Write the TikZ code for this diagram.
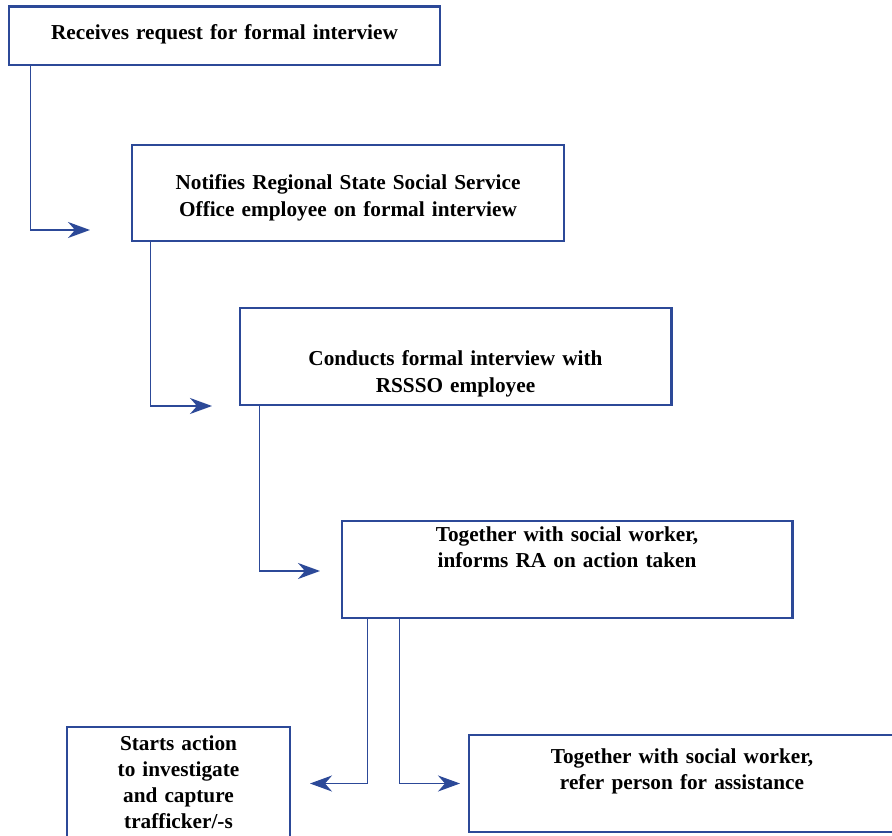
\documentclass[tikz,border=0pt]{standalone}
\usepackage{fontspec}
\setmainfont[WordSpace=0.85]{Liberation Serif}
\usetikzlibrary{arrows.meta}
\definecolor{frameblue}{RGB}{44,73,152}
\tikzstyle{box} = [rectangle, draw=frameblue, line width=1.7pt, inner sep=0pt, align=center, font=\fontsize{12.1}{14.8}\selectfont\bfseries]
\tikzstyle{arrow} = [draw=frameblue, line width=0.9pt, -{Stealth[length=0.44cm,width=0.32cm,inset=0.14cm]}]
\tikzset{base up/.style={text height=0pt, text depth=#1},
         base down/.style={text height=#1, text depth=0pt}}
\begin{document}
\begin{tikzpicture}[node distance=3cm]
\useasboundingbox (-4.49,0.72) rectangle (13.35,-16.0);

\node (request) [box, text width=8.62cm, minimum height=1.16cm, base down=0.16cm] {Receives request for formal interview};
\node (notify) [box, below of=request, xshift=2.47cm, yshift=-0.14cm, text width=8.64cm, minimum height=1.92cm, base up=0.12cm] {Notifies Regional State Social Service\\Office employee on formal interview};
\node (conduct) [box, below of=notify, xshift=2.15cm, yshift=-0.27cm, text width=8.62cm, minimum height=1.94cm, base down=0.38cm] {Conducts formal interview with\\RSSSO employee};
\node (inform) [box, below of=conduct, xshift=2.23cm, yshift=-1.26cm, text width=9cm, minimum height=1.94cm, base up=1.11cm] {Together with social worker,\\informs RA on action taken};
\node (starts) [box, below of=inform, xshift=-7.77cm, yshift=-1.28cm, text width=4.46cm, minimum height=2.26cm, base up=1.34cm] {Starts action\\to investigate\\and capture\\trafficker/-s};
\node (refer) [box, below of=inform, xshift=2.30cm, yshift=-1.28cm, text width=8.52cm, minimum height=1.94cm, base up=0.8cm] {Together with social worker,\\refer person for assistance};

% free ends of the connectors
\node (in2) [coordinate, left of=notify, xshift=-2.16cm, yshift=-0.74cm] {};
\node (in3) [coordinate, left of=conduct, xshift=-1.87cm, yshift=-0.99cm] {};
\node (in4) [coordinate, left of=inform, xshift=-1.94cm, yshift=-0.03cm] {};
\node (out5) [coordinate, right of=starts, xshift=-0.37cm] {};
\node (out6) [coordinate, left of=refer, xshift=-1.44cm] {};

\draw [arrow] ([xshift=0.46cm]request.south west) |- (in2);
\draw [arrow] ([xshift=0.40cm]notify.south west) |- (in3);
\draw [arrow] ([xshift=0.42cm]conduct.south west) |- (in4);
\draw [arrow] ([xshift=0.54cm]inform.south west) |- (out5);
\draw [arrow] ([xshift=1.18cm]inform.south west) |- (out6);

\end{tikzpicture}
\end{document}
